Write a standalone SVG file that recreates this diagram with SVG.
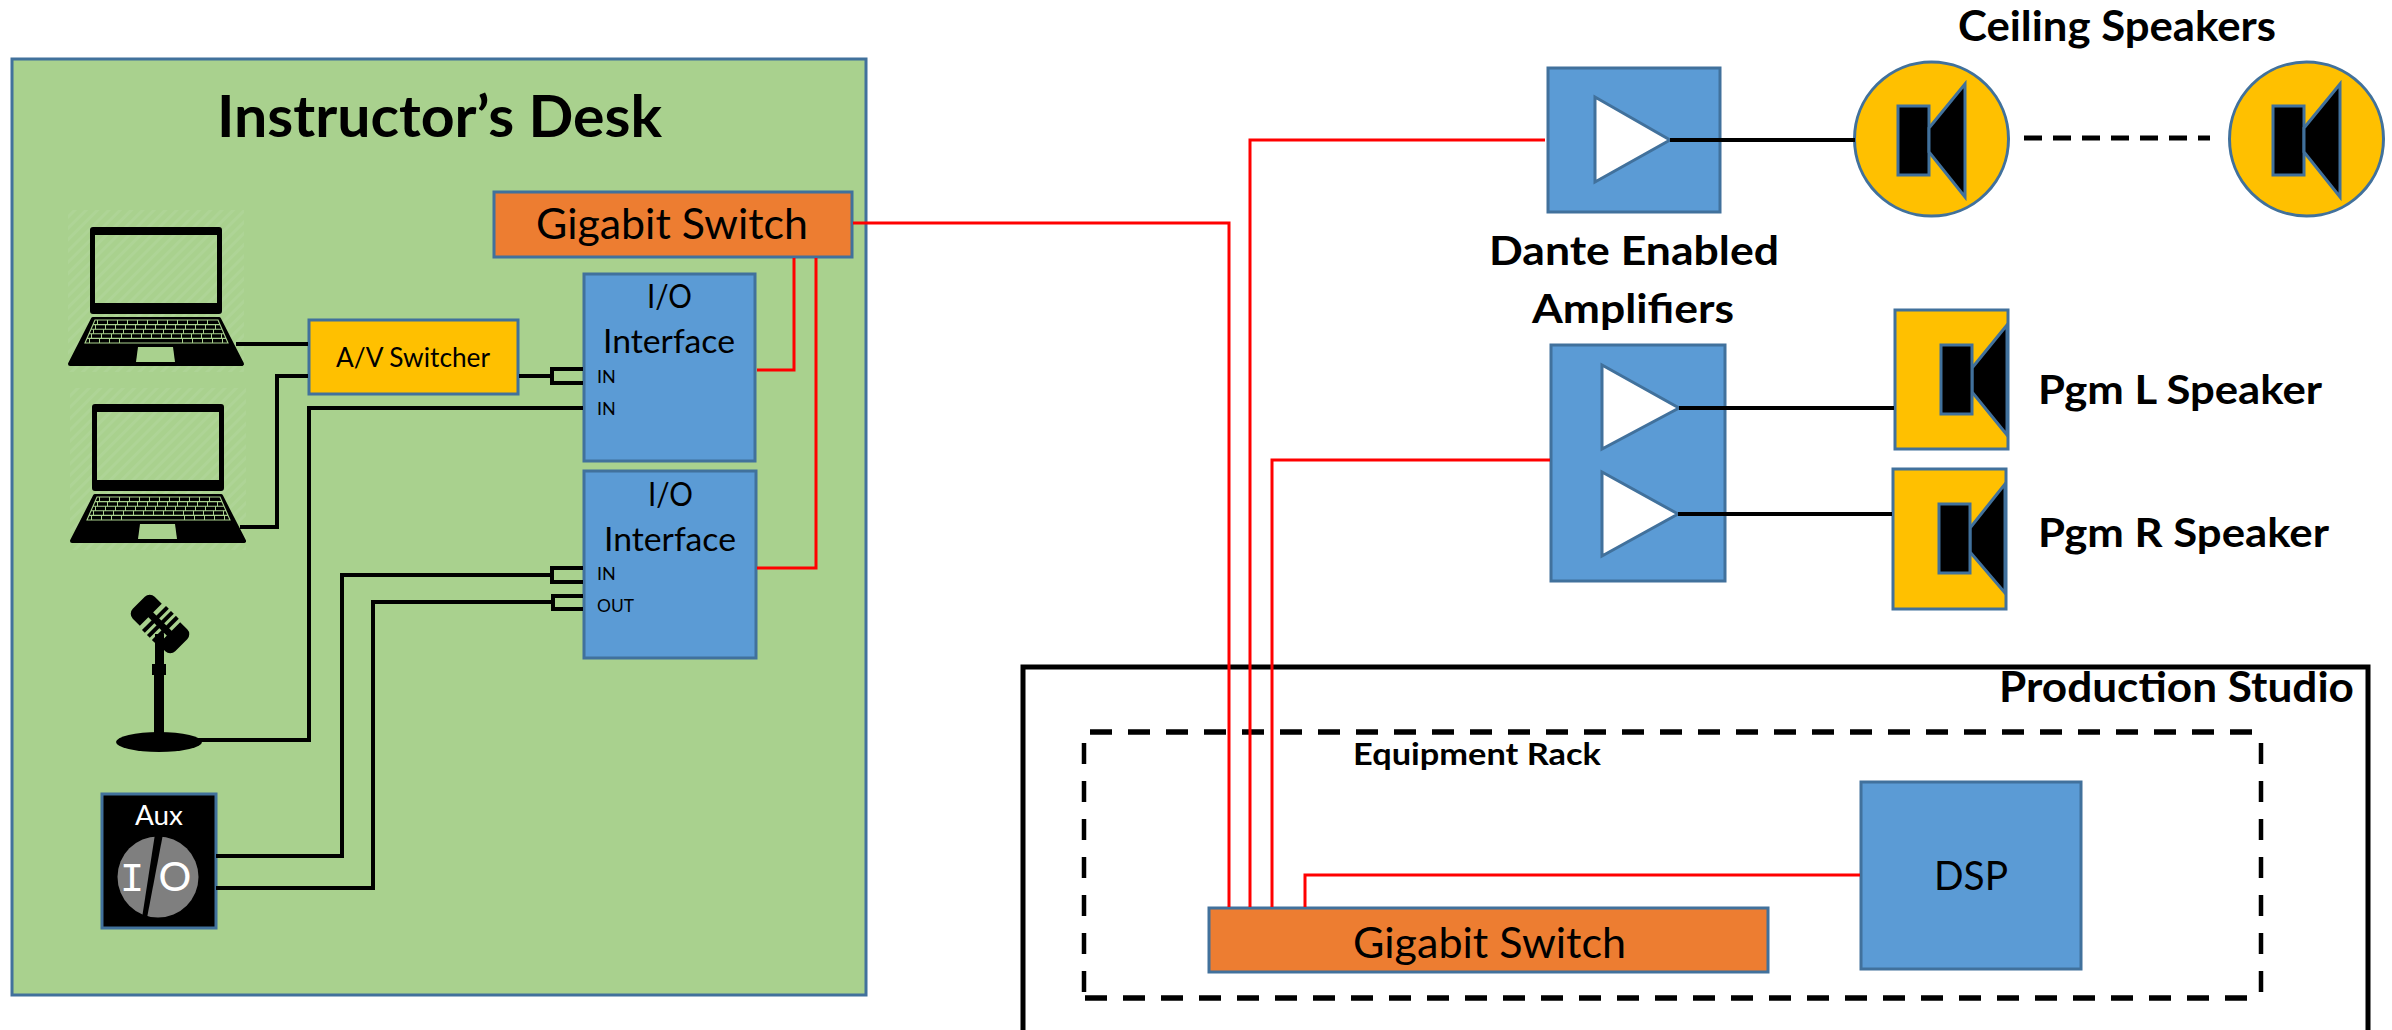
<svg xmlns="http://www.w3.org/2000/svg" width="2392" height="1030" viewBox="0 0 2392 1030">
<style>
text{font-family:Lato,"Liberation Sans",sans-serif;fill:#000}
.b{font-weight:700}
.box{stroke:#41719C;stroke-width:3}
.blue{fill:#5B9BD5}.org{fill:#ED7D31}.yel{fill:#FFC000}
.tri{fill:#fff;stroke:#41719C;stroke-width:3}
.blk{fill:#000;stroke:#41719C;stroke-width:3}
.w{fill:none;stroke:#000;stroke-width:4}
.r{fill:none;stroke:#f00;stroke-width:3}
.k{stroke:#A9D18E;stroke-width:1.1;fill:none}
.kv{stroke:#A9D18E;stroke-width:4.6;stroke-dasharray:1 9;fill:none}
</style>
<defs>
<pattern id="hatch" width="8" height="8" patternUnits="userSpaceOnUse" patternTransform="rotate(45)"><rect width="8" height="8" fill="#A9D18E"/><rect width="3" height="8" fill="#AED496"/></pattern>
<g id="laptop">
<path fill="#000" fill-rule="evenodd" d="M93 227H219Q222 227 222 230V311Q222 314 219 314H93Q90 314 90 311V230Q90 227 93 227ZM95 235V303H217V235Z"/>
<path fill="#000" stroke="#000" stroke-width="4" stroke-linejoin="round" d="M93 319H219L242 364H70Z"/>
<path fill="#A9D18E" d="M138 347H173L175 362H136Z"/>
<path class="k" d="M95 320H218L228 343H85ZM93 324.6H220M91 329.2H222M89 333.8H224M87 338.4H226"/>
<path class="kv" d="M97 322.3H216M95 326.9H218M93 331.5H220M91 336.1H222M89 340.7H120M182 340.7H226"/>
</g>
<g id="cone"><rect class="blk" x="0" y="0" width="31" height="69"/><path class="blk" d="M31 22 67 -22V91L31 46Z"/></g>
</defs>
<rect width="2392" height="1030" fill="#fff"/>

<g id="instructor-desk">
<rect class="box" x="12" y="59" width="854" height="936" fill="#A9D18E"/>
<text class="b" x="217" y="137" font-size="58" textLength="445" lengthAdjust="spacingAndGlyphs">Instructor’s Desk</text>
</g>

<g id="production-studio">
<rect x="1023" y="667" width="1345" height="366" fill="#fff" stroke="#000" stroke-width="5"/>
<text class="b" x="1999" y="702" font-size="42" textLength="355" lengthAdjust="spacingAndGlyphs">Production Studio</text>
</g>
<g id="equipment-rack">
<path fill="none" stroke="#000" stroke-width="5.500" stroke-dasharray="22 16" d="M1090 732H2256M1085 998H2250"/>
<path fill="none" stroke="#000" stroke-width="4.500" stroke-dasharray="21 17" d="M1084 743V993M2261 743V993"/>
<text class="b" x="1353" y="765" font-size="30" textLength="248" lengthAdjust="spacingAndGlyphs">Equipment Rack</text>
</g>

<g id="laptop-1"><rect x="68" y="210" width="176" height="162" fill="url(#hatch)"/><use href="#laptop"/></g>
<g id="laptop-2"><rect x="70" y="388" width="176" height="162" fill="url(#hatch)"/><use href="#laptop" x="2" y="177"/></g>

<g id="gigabit-switch-desk">
<rect class="box org" x="494" y="192" width="358" height="65"/>
<text x="536" y="239" font-size="42" textLength="272" lengthAdjust="spacingAndGlyphs">Gigabit Switch</text>
</g>
<g id="av-switcher">
<rect class="box yel" x="309" y="320" width="209" height="74"/>
<text x="336" y="367" font-size="27" textLength="154" lengthAdjust="spacingAndGlyphs">A/V Switcher</text>
</g>
<g id="io-interface-1">
<rect class="box blue" x="584" y="274" width="171" height="187"/>
<text x="647" y="308" font-size="33" textLength="45" lengthAdjust="spacingAndGlyphs">I/O</text>
<text x="603" y="353" font-size="33" textLength="132" lengthAdjust="spacingAndGlyphs">Interface</text>
<text x="597" y="383" font-size="18">IN</text>
<text x="597" y="415" font-size="18">IN</text>
</g>
<g id="io-interface-2">
<rect class="box blue" x="584" y="471" width="172" height="187"/>
<text x="648" y="506" font-size="33" textLength="45" lengthAdjust="spacingAndGlyphs">I/O</text>
<text x="604" y="551" font-size="33" textLength="132" lengthAdjust="spacingAndGlyphs">Interface</text>
<text x="597" y="580" font-size="18">IN</text>
<text x="597" y="612" font-size="18" textLength="37" lengthAdjust="spacingAndGlyphs">OUT</text>
</g>

<g id="microphone">
<g transform="translate(160 624) rotate(45)" fill="#000">
<path d="M-23-15.5H-13V15.5H-23A7 7 0 0 1-30 8.500V-8.500A7 7 0 0 1-23-15.500Z"/>
<path d="M13-15.5H23A7 7 0 0 1 30-8.500V8.500A7 7 0 0 1 23 15.500H13Z"/>
<rect x="-14" y="-3.500" width="28" height="7"/>
<rect x="-8.500" y="-17" width="4" height="34"/>
<rect x="-1.500" y="-17" width="4" height="34"/>
<rect x="5.500" y="-17" width="4" height="34"/>
</g>
<path fill="#000" d="M155 634H164V664H166V675H164V738H154V675H152V664H155Z"/>
<ellipse cx="159" cy="742" rx="43" ry="10" fill="#000"/>
</g>

<g id="aux-input">
<rect class="box" x="102" y="794" width="114" height="134" fill="#000"/>
<text x="135" y="825" font-size="26" textLength="48" lengthAdjust="spacingAndGlyphs" style="fill:#fff">Aux</text>
<circle cx="158" cy="877" r="40.500" fill="#7F7F7F"/>
<path fill="#000" d="M155 834H163L147 918H142Z"/>
<text x="132" y="891" font-size="41" text-anchor="middle" style="fill:#fff;font-family:'Liberation Mono',monospace">I</text>
<text x="175" y="891" font-size="41" text-anchor="middle" style="fill:#fff">O</text>
</g>

<g id="amp-ceiling">
<rect class="box blue" x="1548" y="68" width="172" height="144"/>
<path class="tri" d="M1595 97V182L1670 140Z"/>
</g>
<g id="amp-program">
<rect class="box blue" x="1551" y="345" width="174" height="236"/>
<path class="tri" d="M1602 365V449L1679 408Z"/>
<path class="tri" d="M1602 472V556L1678 514Z"/>
</g>
<g id="amp-label">
<text class="b" x="1489" y="265" font-size="41" textLength="290" lengthAdjust="spacingAndGlyphs">Dante Enabled</text>
<text class="b" x="1532" y="323" font-size="41" textLength="202" lengthAdjust="spacingAndGlyphs">Amplifiers</text>
</g>
<g id="ceiling-speaker-1">
<circle class="box yel" cx="1931.500" cy="139" r="77"/>
<use href="#cone" x="1898" y="106"/>
</g>
<g id="ceiling-speaker-2">
<circle class="box yel" cx="2306.500" cy="139" r="77"/>
<use href="#cone" x="2273" y="106"/>
</g>
<text class="b" x="1958" y="41" font-size="42" textLength="318" lengthAdjust="spacingAndGlyphs">Ceiling Speakers</text>
<g id="pgm-l-speaker">
<rect class="box yel" x="1895" y="310" width="113" height="139"/>
<path class="blk" d="M1972 368 2007 325V435L1972 392Z"/>
<rect class="blk" x="1941" y="345" width="31" height="69"/>
<text class="b" x="2038" y="404" font-size="41" textLength="284" lengthAdjust="spacingAndGlyphs">Pgm L Speaker</text>
</g>
<g id="pgm-r-speaker">
<rect class="box yel" x="1893" y="469" width="113" height="140"/>
<path class="blk" d="M1970 528 2005 484V593L1970 552Z"/>
<rect class="blk" x="1939" y="504" width="31" height="69"/>
<text class="b" x="2038" y="547" font-size="41" textLength="291" lengthAdjust="spacingAndGlyphs">Pgm R Speaker</text>
</g>

<g id="gigabit-switch-rack">
<rect class="box org" x="1209" y="908" width="559" height="64"/>
<text x="1353" y="958" font-size="42" textLength="273" lengthAdjust="spacingAndGlyphs">Gigabit Switch</text>
</g>
<g id="dsp">
<rect class="box blue" x="1861" y="782" width="220" height="187"/>
<text x="1934" y="890" font-size="40" textLength="74" lengthAdjust="spacingAndGlyphs">DSP</text>
</g>

<g id="connectors">
<path class="w" d="M236 344H308M240 527H277V376H308"/>
<path class="w" d="M519 376H552M583 369H552V383H583"/>
<path class="w" d="M198 740H309V408H583"/>
<path class="w" d="M216 856H342V575H552M583 568H552V582H583"/>
<path class="w" d="M216 888H373V602H553M583 596H553V609H583"/>
<path class="r" d="M794 258V370H757"/>
<path class="r" d="M816 258V568H757"/>
<path class="r" d="M853 223H1229V907"/>
<path class="r" d="M1545 140H1250V907"/>
<path class="r" d="M1550 460H1272V907"/>
<path class="r" stroke-width="3.500" d="M1860 875H1305V907"/>
<path d="M1670 140H1855M1679 408H1894M1678 514H1892" fill="none" stroke="#000" stroke-width="4"/>
<path d="M2024 138H2210" fill="none" stroke="#000" stroke-width="5" stroke-dasharray="18 11"/>
</g>
</svg>
